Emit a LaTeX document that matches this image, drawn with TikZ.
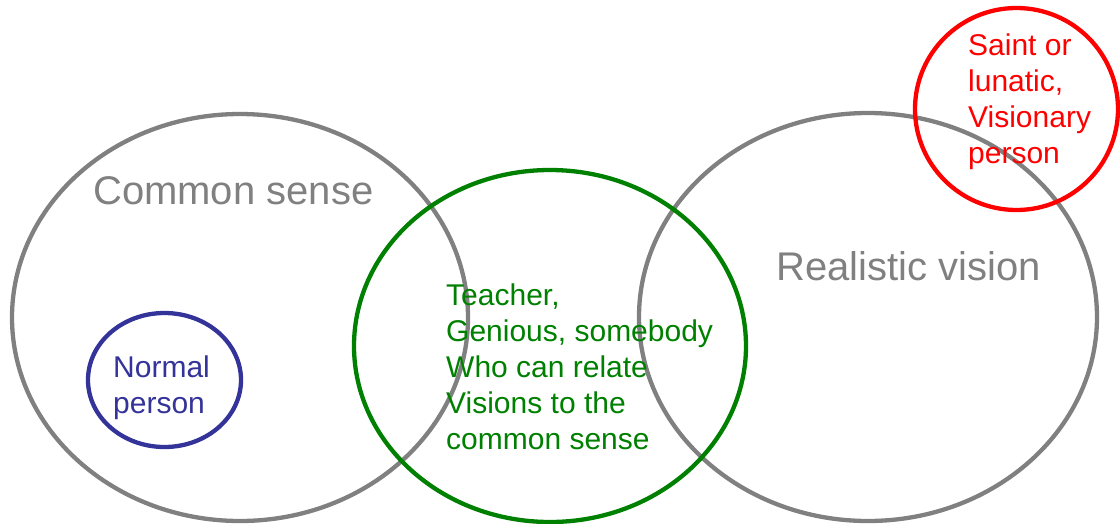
\documentclass[tikz,border=0pt]{standalone}
\usepackage{fontspec}
\setmainfont{Liberation Sans}
\definecolor{cgray}{HTML}{808080}
\definecolor{cgreen}{HTML}{008000}
\definecolor{cblue}{HTML}{333399}
\definecolor{cred}{HTML}{FF0000}
\begin{document}
\begin{tikzpicture}[x=1pt,y=-1pt,
  ring/.style={line width=4.3pt},
  small/.style={font=\fontsize{30}{36}\selectfont, align=left, inner sep=0pt, anchor=base west},
  big/.style={font=\fontsize{40}{45}\selectfont, inner sep=0pt, anchor=base west, text=cgray}]
\useasboundingbox (0,0) rectangle (1120,523);
\draw[ring, cgray] (240,317.5) ellipse [x radius=228, y radius=203.5];
\draw[ring, cgray] (868,317) ellipse [x radius=229, y radius=204];
\draw[ring, cgreen] (550,346) ellipse [x radius=196, y radius=176];
\draw[ring, cblue] (164.5,380) ellipse [x radius=76.5, y radius=67];
\draw[ring, cred] (1016.5,109) ellipse [x radius=101.5, y radius=101];
\node[big] (cs) at (93,204) {Common sense};
\node[big] (rv) at (776,280) {Realistic vision};
\node[small, text=cblue] (np) at (113,413) {Normal\\person};
\node[small, text=cgreen] (tg) at (446,449) {Teacher,\\Genious, somebody\\Who can relate\\Visions to the\\common sense};
\node[small, text=cred] (sl) at (968,163) {Saint or\\lunatic,\\Visionary\\person};
\end{tikzpicture}
\end{document}
